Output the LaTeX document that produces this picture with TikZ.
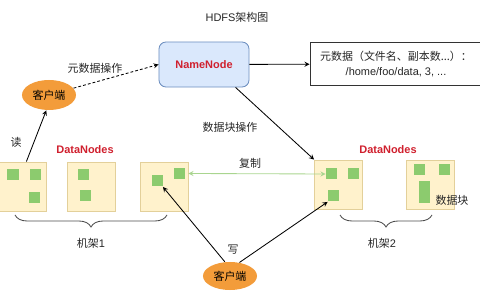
\documentclass[tikz,border=0pt]{standalone}
\usepackage{fontspec}
\setmainfont{Liberation Sans}
\newfontfamily\cjk{Noto Sans CJK SC}
\usetikzlibrary{shapes.geometric, decorations.pathreplacing}
\definecolor{nnfill}{HTML}{DAE8FC}
\definecolor{nnline}{HTML}{6C8EBF}
\definecolor{dnfill}{HTML}{FFF2CC}
\definecolor{dnline}{HTML}{E3D09A}
\definecolor{blkfill}{HTML}{8CCB6E}
\definecolor{cliorange}{HTML}{F39C3A}
\definecolor{redtxt}{HTML}{D0202E}
\definecolor{copygreen}{HTML}{A9D58F}
\tikzset{
  lat/.style={font=\fontsize{7.8}{9.5}\selectfont, text=black!85},
  txt/.style={font=\fontsize{7.8}{9.5}\selectfont\cjk, text=black!85},
  redlbl/.style={font=\fontsize{7.8}{9.5}\selectfont\bfseries, text=redtxt},
  datanode/.style={draw=dnline, fill=dnfill, minimum width=1.2cm, minimum height=1.225cm, inner sep=0pt},
  blk/.style={fill=blkfill, minimum size=0.275cm, inner sep=0pt},
  client/.style={ellipse, fill=cliorange, minimum width=1.35cm, minimum height=0.75cm, inner sep=0pt, font=\fontsize{7.8}{9.5}\selectfont\cjk},
}

\begin{document}
\begin{tikzpicture}[>=stealth, x=0.025cm, y=-0.025cm, line width=0.6pt]
    \useasboundingbox (0,0) rectangle (480,300);
    \clip (0,0) rectangle (480,300);

    \node[lat] (title) at (237,17) {HDFS{\cjk 架构图}};

    % namenode and metadata
    \node[draw=nnline, fill=nnfill, rounded corners=5pt, minimum width=2.25cm, minimum height=1.125cm, redlbl] (nn) at (204,64.5) {NameNode};
    \node[draw=black!80, minimum width=4.3cm, minimum height=1.075cm, align=center, lat, font=\fontsize{7.8}{10.6}\selectfont] (meta) at (396,64) {{\cjk 元数据（文件名、副本数...）：}\\/home/foo/data, 3, ...};

    % clients
    \node[client] (cliA) at (49,95) {客户端};
    \node[client, minimum height=0.7cm] (cliB) at (230,276) {客户端};

    % rack 1
    \node[datanode] (dn1) at (22,186.5) {};
    \node[datanode] (dn2) at (91.5,186.5) {};
    \node[datanode] (dn3) at (164,186.5) {};
    \node[blk] (b11) at (13,175) {};
    \node[blk] (b12) at (35.5,175) {};
    \node[blk] (b13) at (34.5,197.5) {};
    \node[blk] (b21) at (83.5,175) {};
    \node[blk] (b22) at (85.5,195.5) {};
    \node[blk] (b31) at (157,181) {};
    \node[blk] (b32) at (179,174) {};

    % rack 2
    \node[datanode] (dn4) at (338.5,184.5) {};
    \node[datanode] (dn5) at (430,184.5) {};
    \node[blk] (b41) at (331.5,174) {};
    \node[blk] (b42) at (353.5,173.5) {};
    \node[blk] (b43) at (333.5,196) {};
    \node[blk] (b51) at (419.5,170) {};
    \node[blk] (b52) at (444.5,170) {};
    \node[blk] (b53) at (424.5,187) {};
    \node[blk] (b54) at (424.5,198) {};

    % labels
    \node[redlbl] (dnA) at (85,150) {DataNodes};
    \node[redlbl] (dnB) at (388,150) {DataNodes};
    \node[txt] (lblmeta) at (95,68) {元数据操作};
    \node[txt] (lblread) at (16,142) {读};
    \node[txt] (lblops) at (230,127) {数据块操作};
    \node[txt] (lblcopy) at (250,163) {复制};
    \node[txt] (lblwrite) at (233,250) {写};
    \node[txt] (lblchunk) at (452,200) {数据块};
    \node[lat] (rack1) at (91,243) {{\cjk 机架}1};
    \node[lat] (rack2) at (382,243) {{\cjk 机架}2};

    % braces
    \draw[black!70, decorate, decoration={brace, mirror, amplitude=0.3cm}] (15,215) -- (167,215);
    \draw[black!70, decorate, decoration={brace, mirror, amplitude=0.3cm}] (340,215) -- (432,215);

    % connectors
    \draw[->, dash pattern=on 2pt off 1.5pt] (cliA) -- (nn.west);
    \draw[->] (nn) -- (meta);
    \draw[->] (dn1.80) -- (cliA.260);
    \draw[->] (nn.-36) -- (dn4.north west);
    \draw[<->, copygreen] (b42.west -| dn3.east) -- (b41.west);
    \draw[->] (cliB.110) -- (b31.south east);
    \draw[->] (cliB.55) -- (b43.south west);
\end{tikzpicture}
\end{document}
